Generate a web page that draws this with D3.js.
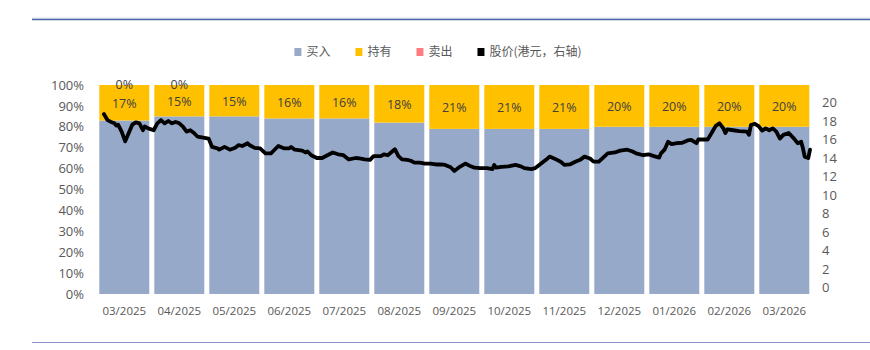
<!DOCTYPE html>
<html>
<head>
<meta charset="utf-8">
<script src="https://cdn.jsdelivr.net/npm/d3@7"></script>
<style>
  html, body { margin: 0; padding: 0; background: #fff; }
  svg { display: block; }
  text { font-family: "Open Sans", "Noto Sans", sans-serif; }
  .cjk { font-family: "Noto Sans CJK SC", "Noto Sans", sans-serif; }
</style>
</head>
<body>
<svg id="chart" width="870" height="350"></svg>
<script>
// Monthly rating mix (share of analysts) and daily share price
const months = ["03/2025","04/2025","05/2025","06/2025","07/2025","08/2025","09/2025",
                "10/2025","11/2025","12/2025","01/2026","02/2026","03/2026"];
const buyPct  = [0.83,0.85,0.85,0.84,0.84,0.82,0.79,0.79,0.79,0.80,0.80,0.80,0.80];
const holdPct = [0.17,0.15,0.15,0.16,0.16,0.18,0.21,0.21,0.21,0.20,0.20,0.20,0.20];
const sellPct = [0,0,null,null,null,null,null,null,null,null,null,null,null];

const leftTicks  = [0,0.1,0.2,0.3,0.4,0.5,0.6,0.7,0.8,0.9,1];
const rightTicks = [0,2,4,6,8,10,12,14,16,18,20];

const seriesNames  = ["买入","持有","卖出","股价(港元，右轴)"];
const seriesColors = ["#97A9C9","#FFC000","#FF7C80","#000000"];

// Share price, HKD
const priceDates = [
 "2025-03-05","2025-03-07","2025-03-09","2025-03-11","2025-03-12","2025-03-13","2025-03-15","2025-03-17","2025-03-19","2025-03-21","2025-03-23","2025-03-25","2025-03-27","2025-03-28","2025-03-30",
 "2025-04-02","2025-04-04","2025-04-06","2025-04-08","2025-04-10","2025-04-12","2025-04-14","2025-04-16","2025-04-18","2025-04-20","2025-04-22","2025-04-24","2025-04-26","2025-04-29",
 "2025-05-02","2025-05-04","2025-05-07","2025-05-08","2025-05-11","2025-05-14","2025-05-17","2025-05-19","2025-05-21","2025-05-24","2025-05-25","2025-05-28","2025-05-31",
 "2025-06-03","2025-06-06","2025-06-07","2025-06-10","2025-06-13","2025-06-16","2025-06-17","2025-06-19","2025-06-23","2025-06-25","2025-06-26","2025-06-28",
 "2025-07-01","2025-07-04","2025-07-07","2025-07-10","2025-07-13","2025-07-16","2025-07-19","2025-07-23","2025-07-25","2025-07-28","2025-07-31",
 "2025-08-02","2025-08-06","2025-08-08","2025-08-10","2025-08-14","2025-08-16","2025-08-18","2025-08-21","2025-08-23","2025-08-25","2025-08-28","2025-08-31",
 "2025-09-03","2025-09-06","2025-09-09","2025-09-11","2025-09-14","2025-09-16","2025-09-19","2025-09-22","2025-09-25","2025-09-27","2025-09-30",
 "2025-10-04","2025-10-07","2025-10-08","2025-10-09","2025-10-12","2025-10-16","2025-10-20","2025-10-23","2025-10-25","2025-10-29","2025-10-31",
 "2025-11-03","2025-11-06","2025-11-08","2025-11-11","2025-11-14","2025-11-16","2025-11-19","2025-11-22","2025-11-25","2025-11-27","2025-11-30",
 "2025-12-02","2025-12-05","2025-12-08","2025-12-10","2025-12-14","2025-12-17","2025-12-21","2025-12-24","2025-12-26","2025-12-30",
 "2026-01-02","2026-01-05","2026-01-08","2026-01-09","2026-01-11","2026-01-13","2026-01-15","2026-01-18","2026-01-21","2026-01-24","2026-01-26","2026-01-29","2026-01-30",
 "2026-02-02","2026-02-04","2026-02-06","2026-02-08","2026-02-10","2026-02-12","2026-02-13","2026-02-14","2026-02-17","2026-02-20","2026-02-24","2026-02-25","2026-02-26","2026-02-28",
 "2026-03-02","2026-03-04","2026-03-06","2026-03-08","2026-03-10","2026-03-12","2026-03-14","2026-03-16","2026-03-19","2026-03-22","2026-03-24","2026-03-26","2026-03-27","2026-03-28","2026-03-30","2026-03-31"
];
const priceValues = [
 18.75,18.1,17.9,17.75,17.5,17.6,16.85,15.8,16.7,17.6,17.85,17.75,17.0,17.4,17.2,
 17.0,17.75,18.1,17.75,18.0,17.75,17.9,17.75,17.4,16.85,17.0,16.7,16.3,16.2,
 16.1,15.2,15.05,14.9,15.2,14.9,15.1,15.4,15.3,15.6,15.4,15.1,15.05,
 14.5,14.5,14.7,15.3,15.05,15.05,15.2,14.9,14.8,14.6,14.7,14.3,
 14.0,14.0,14.3,14.6,14.4,14.3,13.85,14.0,13.95,13.85,13.8,
 14.2,14.2,14.4,14.3,14.95,14.2,13.85,13.8,13.7,13.5,13.5,13.4,
 13.4,13.3,13.3,13.25,13.0,12.6,13.05,13.4,13.1,12.95,12.9,
 12.9,12.8,13.25,12.95,13.05,13.1,13.25,13.1,12.9,12.8,12.9,
 13.35,13.8,14.15,13.9,13.6,13.25,13.3,13.6,13.85,14.15,13.95,
 13.6,13.6,14.15,14.5,14.6,14.8,14.9,14.7,14.5,14.3,
 14.4,14.2,14.05,14.5,14.9,15.75,15.5,15.6,15.65,15.9,15.95,15.6,16.0,
 16.0,16.0,16.7,17.45,17.75,17.2,16.7,17.1,17.0,16.9,16.85,16.5,17.55,17.7,
 17.45,16.95,17.2,17.0,17.2,16.85,16.1,16.5,16.7,16.1,15.6,15.75,15.05,14.15,14.0,14.9
];

const svg = d3.select("#chart");
const W = 870;

// Plot geometry
const plotLeft = 96.8, plotRight = 811.8;
const x = d3.scaleBand().domain(months).range([plotLeft, plotRight])
  .paddingInner(5 / 55).paddingOuter(2.5 / 55);
const yL = d3.scaleLinear().domain([0, 1]).range([294, 85]);
const yR = d3.scaleLinear().domain([0, 20]).range([287.5, 102.5]);

// Continuous position along the month axis for daily points
const monthPos = d3.scaleLinear().domain([0, months.length]).range([plotLeft, plotRight]);
const parseDate = d3.timeParse("%Y-%m-%d");
function dateX(s) {
  const d = parseDate(s);
  const idx = (d.getFullYear() - 2025) * 12 + d.getMonth() - 2;
  const days = new Date(d.getFullYear(), d.getMonth() + 1, 0).getDate();
  return monthPos(idx + (d.getDate() - 1) / days);
}

// Header and footer rules
svg.append("line").attr("x1", 32).attr("x2", W).attr("y1", 18).attr("y2", 18)
  .attr("stroke", "#d3daea").attr("stroke-width", 1);
svg.append("line").attr("x1", 32).attr("x2", W).attr("y1", 19.5).attr("y2", 19.5)
  .attr("stroke", "#4a64a2").attr("stroke-width", 1.6);
svg.append("line").attr("x1", 32).attr("x2", W).attr("y1", 342.5).attr("y2", 342.5)
  .attr("stroke", "#8a90c6").attr("stroke-width", 1);

// Stacked bars
const rows = months.map((m, i) => ({ m, buy: buyPct[i], hold: holdPct[i], sell: sellPct[i] }));
const gBars = svg.append("g");
gBars.selectAll("rect.buy").data(rows).join("rect")
  .attr("class", "buy")
  .attr("x", d => x(d.m)).attr("width", x.bandwidth())
  .attr("y", d => yL(d.buy)).attr("height", d => yL(0) - yL(d.buy))
  .attr("fill", seriesColors[0]);
gBars.selectAll("rect.hold").data(rows).join("rect")
  .attr("class", "hold")
  .attr("x", d => x(d.m)).attr("width", x.bandwidth())
  .attr("y", d => yL(d.buy + d.hold)).attr("height", d => yL(d.buy) - yL(d.buy + d.hold))
  .attr("fill", seriesColors[1]);
gBars.selectAll("rect.sell").data(rows.filter(d => d.sell !== null)).join("rect")
  .attr("class", "sell")
  .attr("x", d => x(d.m)).attr("width", x.bandwidth())
  .attr("y", d => yL(d.buy + d.hold + d.sell)).attr("height", d => yL(d.buy + d.hold) - yL(d.buy + d.hold + d.sell))
  .attr("fill", seriesColors[2]);

// Data labels
const fmtPct = d3.format(".0%");
gBars.selectAll("text.hold").data(rows).join("text")
  .attr("class", "hold")
  .attr("x", d => x(d.m) + x.bandwidth() / 2)
  .attr("y", d => (yL(d.buy) + yL(d.buy + d.hold)) / 2 + 0.8)
  .attr("dy", "0.35em").attr("text-anchor", "middle")
  .attr("font-size", 12.5).attr("fill", "#404040")
  .text(d => fmtPct(d.hold));
gBars.selectAll("text.sell").data(rows.filter(d => d.sell !== null)).join("text")
  .attr("class", "sell")
  .attr("x", d => x(d.m) + x.bandwidth() / 2)
  .attr("y", d => (yL(d.buy + d.hold) + yL(d.buy + d.hold + d.sell)) / 2)
  .attr("dy", "0.3em").attr("text-anchor", "middle")
  .attr("font-size", 12.5).attr("fill", "#404040")
  .text(d => fmtPct(d.sell));

// Price line
const pts = priceDates.map((s, i) => [dateX(s), yR(priceValues[i])]);
svg.append("path")
  .attr("d", d3.line()(pts))
  .attr("fill", "none").attr("stroke", seriesColors[3])
  .attr("stroke-width", 3.8).attr("stroke-linejoin", "round").attr("stroke-linecap", "round");

// Axes
const axisL = d3.axisLeft(yL).tickValues(leftTicks).tickFormat(d3.format(".0%")).tickSize(0).tickPadding(0);
const gL = svg.append("g").attr("transform", "translate(84,0)").call(axisL);
const axisR = d3.axisRight(yR).tickValues(rightTicks).tickFormat(d3.format("d")).tickSize(0).tickPadding(0);
const gR = svg.append("g").attr("transform", "translate(822,0)").call(axisR);
const axisB = d3.axisBottom(x).tickSize(0).tickPadding(0);
const gB = svg.append("g").attr("transform", "translate(0,311)").call(axisB);
[gL, gR, gB].forEach(g => {
  g.select(".domain").remove();
  g.selectAll("text").attr("font-family", "'Open Sans', 'Noto Sans', sans-serif").attr("fill", "#595959");
});
gL.selectAll("text").attr("font-size", 13);
gR.selectAll("text").attr("font-size", 13);
gB.selectAll("text").attr("font-size", 11.5).attr("dy", "0.35em");

// Legend
const gLeg = svg.append("g");
let lx = 0;
seriesNames.forEach((name, i) => {
  const g = gLeg.append("g");
  g.append("rect").attr("x", 0).attr("y", -4).attr("width", 7).attr("height", 8).attr("fill", seriesColors[i]);
  const t = g.append("text").attr("class", "cjk").attr("x", 12).attr("dy", "0.35em")
    .attr("font-size", 12).attr("fill", "#595959").text(name);
  const w = 12 + t.node().getComputedTextLength();
  g.attr("transform", `translate(${lx},0)`);
  lx += w + 25;
});
const legW = lx - 25;
gLeg.attr("transform", `translate(${438 - legW / 2},52)`);
</script>
</body>
</html>
